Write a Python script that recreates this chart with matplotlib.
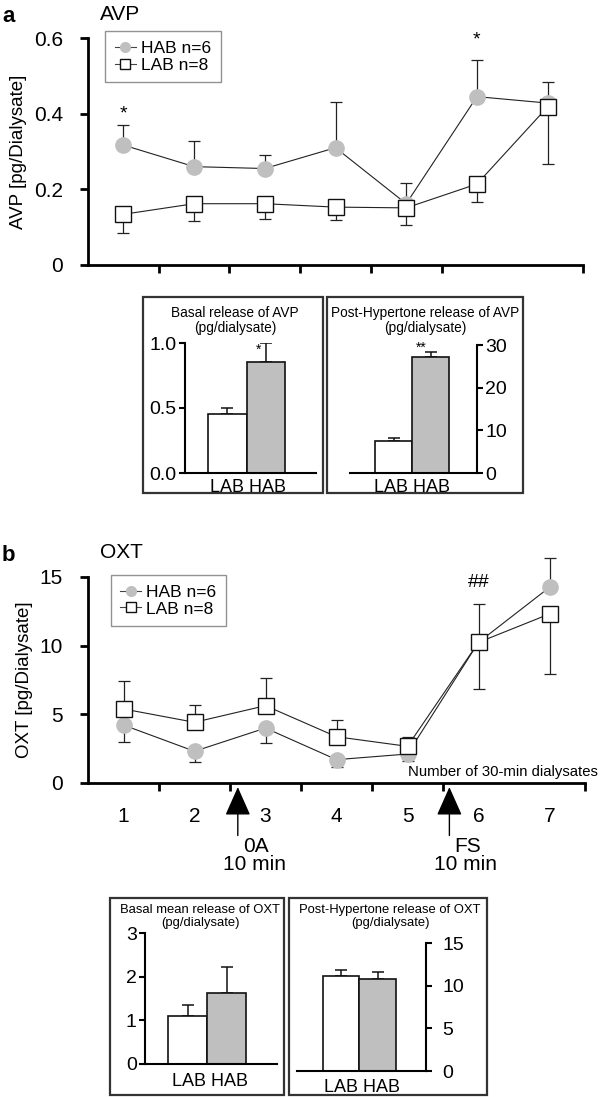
import matplotlib
matplotlib.use("Agg")
import matplotlib.pyplot as plt
from matplotlib.patches import Rectangle
from matplotlib.lines import Line2D

plt.rcParams['font.family'] = ['Liberation Sans', 'DejaVu Sans']

# ---------------- data ----------------
dialysates = [1, 2, 3, 4, 5, 6, 7]
xtick_labels = ['1', '2', '3', '4', '5', '6', '7']

avp_hab = [0.317, 0.260, 0.255, 0.310, 0.162, 0.445, 0.428]
avp_hab_sem = [0.052, 0.067, 0.036, 0.122, 0.055, 0.098, 0.057]
avp_hab_dir = ['up', 'up', 'up', 'up', 'up', 'up', 'up']
avp_lab = [0.134, 0.162, 0.162, 0.153, 0.151, 0.214, 0.418]
avp_lab_sem = [0.049, 0.046, 0.041, 0.035, 0.044, 0.048, 0.150]
avp_lab_dir = ['down', 'down', 'down', 'down', 'down', 'down', 'down']

oxt_hab = [4.22, 2.31, 4.00, 1.70, 2.11, 10.24, 14.25]
oxt_hab_sem = [1.21, 0.76, 1.09, 0.56, 0.53, 2.79, 2.13]
oxt_hab_dir = ['down', 'down', 'down', 'down', 'down', 'up', 'up']
oxt_lab = [5.39, 4.42, 5.63, 3.37, 2.67, 10.24, 12.31]
oxt_lab_sem = [2.06, 1.26, 1.99, 1.22, 0.70, 3.40, 4.37]
oxt_lab_dir = ['up', 'up', 'up', 'up', 'up', 'down', 'down']

groups = ['LAB', 'HAB']
avp_basal = [0.454, 0.851]
avp_basal_sem = [0.046, 0.149]
avp_post = [7.4, 27.3]
avp_post_sem = [0.9, 1.1]
oxt_basal = [1.10, 1.62]
oxt_basal_sem = [0.255, 0.61]
oxt_post = [11.13, 10.82]
oxt_post_sem = [0.67, 0.74]

legend_labels = ['HAB n=6', 'LAB n=8']

W, H = 600, 1097
fig = plt.figure(figsize=(W / 100, H / 100), dpi=100)


def px_axes(l, t, r, b):
    return fig.add_axes([l / W, 1 - b / H, (r - l) / W, (b - t) / H])


def split_err(sem, direction):
    lo = [s if d == 'down' else 0 for s, d in zip(sem, direction)]
    hi = [s if d == 'up' else 0 for s, d in zip(sem, direction)]
    return [lo, hi]


def noclip(container):
    for part in container.lines:
        if part is None:
            continue
        if isinstance(part, (list, tuple)):
            for p in part:
                p.set_clip_on(False)
        else:
            part.set_clip_on(False)


HAB_GREY = '#bfbfbf'
SPINE_W = 2.0
TICK_FS = 15


def line_panel(ax, hab, hab_sem, hab_dir, lab, lab_sem, lab_dir, ylim, yticks, yticklabels,
               leg_anchor):
    e1 = ax.errorbar(dialysates, hab, yerr=split_err(hab_sem, hab_dir), fmt='none',
                     ecolor='#222222', elinewidth=0.9, capsize=4, capthick=0.9, zorder=2)
    e2 = ax.errorbar(dialysates, lab, yerr=split_err(lab_sem, lab_dir), fmt='none',
                     ecolor='#222222', elinewidth=0.9, capsize=4, capthick=0.9, zorder=2)
    noclip(e1)
    noclip(e2)
    ax.plot(dialysates, hab, '-', color='#222222', lw=0.8, zorder=3)
    ax.plot(dialysates, hab, 'o', color=HAB_GREY, mec=HAB_GREY, ms=11, zorder=4, clip_on=False)
    ax.plot(dialysates, lab, '-', color='#222222', lw=0.8, zorder=5)
    ax.plot(dialysates, lab, 's', mfc='white', mec='#111111', mew=1.0, ms=11, zorder=6,
            clip_on=False)
    ax.set_xlim(0.5, 7.5)
    ax.set_ylim(*ylim)
    ax.set_yticks(yticks)
    ax.set_yticklabels(yticklabels, fontsize=TICK_FS)
    ax.spines['top'].set_visible(False)
    ax.spines['right'].set_visible(False)
    for s in ['left', 'bottom']:
        ax.spines[s].set_linewidth(SPINE_W)
    ax.set_xticks([1.5, 2.5, 3.5, 4.5, 5.5, 7.5])
    ax.set_xticklabels([])
    ax.tick_params(axis='both', direction='out', width=SPINE_W, length=6)
    ax.tick_params(axis='y', pad=12)
    h1 = Line2D([], [], color='#444444', lw=0.8, marker='o', mfc=HAB_GREY, mec=HAB_GREY, ms=7)
    h2 = Line2D([], [], color='#444444', lw=0.8, marker='s', mfc='white', mec='#111111', ms=7)
    leg = ax.legend([h1, h2], legend_labels, loc='upper left', bbox_to_anchor=leg_anchor,
                    fontsize=12.5, frameon=True, fancybox=False, handlelength=1.2,
                    handletextpad=0.3, borderpad=0.55, labelspacing=0.1, borderaxespad=0)
    leg.get_frame().set_edgecolor('#777777')
    leg.get_frame().set_linewidth(1.0)


# ---------------- panel a ----------------
axa = px_axes(88, 38, 583, 265)
line_panel(axa, avp_hab, avp_hab_sem, avp_hab_dir, avp_lab, avp_lab_sem, avp_lab_dir,
           (0, 0.6), [0, 0.2, 0.4, 0.6], ['0', '0.2', '0.4', '0.6'], (0.035, 1.03))
axa.set_ylabel('AVP [pg/Dialysate]', fontsize=13.5, labelpad=5)
axa.text(1, 0.40, '*', ha='center', va='center', fontsize=14)
axa.text(6, 0.595, '*', ha='center', va='center', fontsize=14)
fig.text(2 / W, 1 - 16 / H, 'a', fontsize=16, fontweight='bold', va='center', ha='left')
fig.text(100 / W, 1 - 14 / H, 'AVP', fontsize=15, va='center', ha='left')

# ---------------- panel b ----------------
axb = px_axes(88, 577, 585, 783)
line_panel(axb, oxt_hab, oxt_hab_sem, oxt_hab_dir, oxt_lab, oxt_lab_sem, oxt_lab_dir,
           (0, 15), [0, 5, 10, 15], ['0', '5', '10', '15'], (0.046, 1.01))
axb.set_xticks(dialysates, minor=True)
axb.set_xticklabels(xtick_labels, minor=True, fontsize=TICK_FS)
axb.tick_params(axis='x', which='minor', length=0, pad=17)
axb.set_ylabel('OXT [pg/Dialysate]', fontsize=13.5, labelpad=5)
axb.text(6, 14.6, '##', ha='center', va='center', fontsize=14)
fig.text(598 / W, 1 - 772 / H, 'Number of 30-min dialysates', ha='right', va='center',
         fontsize=10.7)
fig.text(2 / W, 1 - 556 / H, 'b', fontsize=16, fontweight='bold', va='center', ha='left')
fig.text(100 / W, 1 - 553 / H, 'OXT', fontsize=15, va='center', ha='left')

for xarr, lab1 in [(2.61, '0A'), (5.59, 'FS')]:
    axb.annotate('', xy=(xarr, -0.02), xycoords=('data', 'axes fraction'),
                 xytext=(xarr, -0.255), textcoords=('data', 'axes fraction'),
                 arrowprops=dict(arrowstyle='-|>,head_width=0.8,head_length=1.8',
                                 color='black', lw=1.0, shrinkA=0, shrinkB=0,
                                 mutation_scale=10))
    axb.text(xarr + 0.07, -0.31, lab1, transform=axb.get_xaxis_transform(),
             ha='left', va='center', fontsize=15)
    axb.text(xarr + 0.23, -0.395, '10 min', transform=axb.get_xaxis_transform(),
             ha='center', va='center', fontsize=15)


# ---------------- insets ----------------
def box(l, t, r, b):
    fig.patches.append(Rectangle((l / W, 1 - b / H), (r - l) / W, (b - t) / H,
                                 transform=fig.transFigure, fill=False,
                                 edgecolor='#333333', lw=1.6))


def bar_inset(axpos, xlim, vals, sems, ylim, yticks, yticklabels, side):
    ax = px_axes(*axpos)
    ax.bar([1, 2], vals, width=1.0, color=['white', HAB_GREY], edgecolor='#111111',
           lw=1.2, zorder=2)
    ax.errorbar([1, 2], vals, yerr=[[0, 0], sems], fmt='none', ecolor='#111111',
                elinewidth=1.1, capsize=4, capthick=1.1, zorder=1)
    ax.set_xlim(*xlim)
    ax.set_ylim(*ylim)
    ax.set_yticks(yticks)
    ax.set_yticklabels(yticklabels, fontsize=14)
    ax.set_xticks([])
    ax.spines['top'].set_visible(False)
    if side == 'left':
        ax.spines['right'].set_visible(False)
    else:
        ax.spines['left'].set_visible(False)
        ax.yaxis.tick_right()
    for s in ['left', 'right', 'bottom']:
        ax.spines[s].set_linewidth(1.5)
    ax.tick_params(axis='y', width=1.5, length=4, pad=2)
    return ax


TITLE_FS = 9.8
TITLE_FS_B = 9.4
GROUP_FS = 13

# AVP insets
box(143, 297, 323, 493)
box(327, 297, 523, 493)
ax1 = bar_inset((185, 343, 316, 473), (-0.1, 3.3), avp_basal, avp_basal_sem,
                (0, 1.0), [0, 0.5, 1.0], ['0.0', '0.5', '1.0'], 'left')
ax1.text(1.8, 0.95, '*', ha='center', va='center', fontsize=10)
fig.text(235 / W, 1 - 313 / H, 'Basal release of AVP', ha='center', va='center', fontsize=TITLE_FS)
fig.text(235 / W, 1 - 328 / H, '(pg/dialysate)', ha='center', va='center', fontsize=TITLE_FS)
fig.text(248 / W, 1 - 487 / H, ' '.join(groups), ha='center', va='center', fontsize=GROUP_FS)

ax2 = bar_inset((350, 345, 477, 473), (-0.18, 3.25), avp_post, avp_post_sem,
                (0, 30), [0, 10, 20, 30], ['0', '10', '20', '30'], 'right')
ax2.text(1.75, 29.3, '**', ha='center', va='center', fontsize=10)
fig.text(425 / W, 1 - 313 / H, 'Post-Hypertone release of AVP', ha='center', va='center', fontsize=TITLE_FS)
fig.text(425 / W, 1 - 328 / H, '(pg/dialysate)', ha='center', va='center', fontsize=TITLE_FS)
fig.text(412 / W, 1 - 487 / H, ' '.join(groups), ha='center', va='center', fontsize=GROUP_FS)

# OXT insets
box(110, 898, 284, 1095)
box(289, 898, 487, 1095)
ax3 = bar_inset((145, 933, 277, 1064), (-0.09, 3.29), oxt_basal, oxt_basal_sem,
                (0, 3), [0, 1, 2, 3], ['0', '1', '2', '3'], 'left')
fig.text(200 / W, 1 - 910 / H, 'Basal mean release of OXT', ha='center', va='center', fontsize=TITLE_FS_B)
fig.text(200 / W, 1 - 923 / H, '(pg/dialysate)', ha='center', va='center', fontsize=TITLE_FS_B)
fig.text(210 / W, 1 - 1082 / H, ' '.join(groups), ha='center', va='center', fontsize=GROUP_FS)

ax4 = bar_inset((297, 943, 426, 1071), (-0.21, 3.32), oxt_post, oxt_post_sem,
                (0, 15), [0, 5, 10, 15], ['0', '5', '10', '15'], 'right')
ax4.tick_params(axis='y', pad=8)
fig.text(390 / W, 1 - 910 / H, 'Post-Hypertone release of OXT', ha='center', va='center', fontsize=TITLE_FS_B)
fig.text(390 / W, 1 - 923 / H, '(pg/dialysate)', ha='center', va='center', fontsize=TITLE_FS_B)
fig.text(362 / W, 1 - 1087 / H, ' '.join(groups), ha='center', va='center', fontsize=GROUP_FS)

fig.savefig('out.png', dpi=100)
